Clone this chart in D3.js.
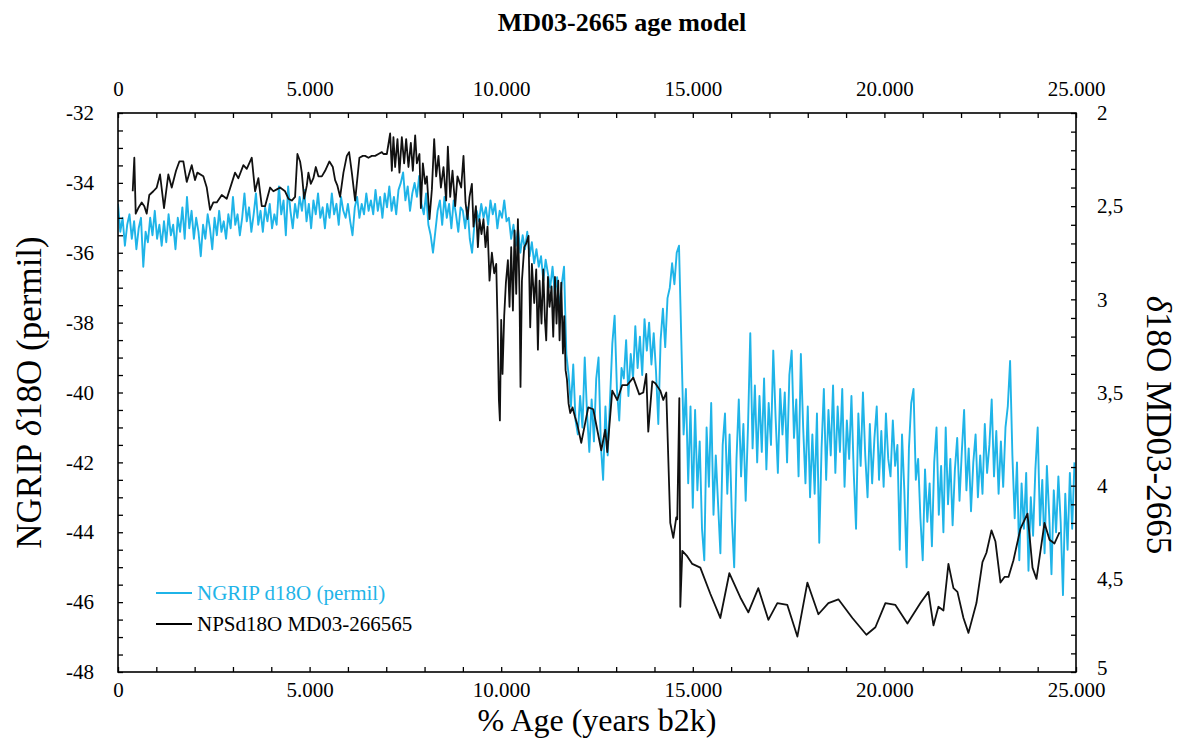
<!DOCTYPE html>
<html>
<head>
<meta charset="utf-8">
<script src="https://cdn.jsdelivr.net/npm/d3@7"></script>
<style>
  body { margin: 0; background: #fff; }
  svg { display: block; }
  text { font-family: "Liberation Serif", "Times New Roman", serif; fill: #000; }
</style>
</head>
<body>
<svg id="chart" width="1191" height="743"></svg>
<script>
// NGRIP d18O (permil), evenly sampled from the present back to 25 ka b2k
const ngripStartAge = 0;
const ngripStepYears = 60;
const ngripD18O = [
  -34.6,-35.4,-35.0,-35.8,-35.2,-34.9,-35.6,-35.1,-35.9,-35.3,
  -35.0,-36.4,-35.4,-35.7,-35.0,-35.5,-34.8,-35.6,-35.2,-35.8,
  -35.1,-35.7,-34.9,-35.5,-35.2,-35.9,-35.0,-35.4,-34.7,-35.6,
  -34.4,-35.3,-34.8,-35.6,-35.0,-35.4,-36.1,-35.2,-35.6,-34.9,
  -35.3,-35.9,-35.0,-35.5,-34.8,-35.4,-35.1,-35.6,-34.9,-35.3,
  -34.4,-35.2,-34.9,-35.5,-35.0,-34.3,-35.1,-34.7,-35.4,-34.9,
  -34.3,-35.2,-34.8,-35.4,-34.7,-35.1,-34.6,-35.3,-34.9,-35.2,
  -34.1,-34.9,-34.5,-35.5,-34.1,-34.8,-35.3,-34.6,-35.0,-34.4,
  -34.8,-34.2,-35.1,-34.6,-35.3,-34.5,-34.9,-34.3,-35.0,-34.7,
  -35.3,-34.6,-35.0,-34.3,-34.9,-34.6,-35.2,-34.4,-34.8,-35.0,
  -34.6,-35.1,-35.5,-34.7,-34.4,-35.0,-34.6,-34.9,-34.3,-34.8,
  -34.5,-34.9,-34.2,-34.8,-34.4,-35.0,-34.3,-34.7,-34.1,-34.8,
  -34.4,-34.9,-34.2,-34.0,-33.7,-34.5,-34.1,-34.8,-34.3,-34.0,
  -34.4,-33.8,-34.6,-34.9,-34.3,-35.2,-35.5,-36.0,-35.4,-34.8,
  -34.5,-35.2,-34.4,-35.0,-34.6,-35.3,-34.5,-34.9,-35.4,-34.7,
  -34.8,-35.3,-34.7,-35.6,-36.0,-35.2,-34.8,-35.1,-34.6,-35.0,
  -34.7,-35.2,-34.5,-34.9,-34.6,-35.3,-34.8,-35.0,-34.5,-35.1,
  -35.0,-35.6,-35.2,-35.8,-35.3,-36.0,-35.5,-35.9,-35.4,-36.1,
  -35.7,-36.3,-35.9,-36.4,-36.1,-36.8,-36.2,-36.6,-37.0,-36.4,
  -37.2,-36.7,-37.6,-36.9,-36.4,-38.9,-39.5,-40.4,-39.2,-40.8,
  -41.2,-40.1,-41.0,-39.0,-40.6,-41.7,-40.2,-41.4,-39.6,-39.0,
  -41.5,-42.5,-40.4,-41.8,-40.2,-38.6,-37.8,-39.9,-40.8,-39.3,
  -39.6,-38.5,-40.1,-38.9,-39.6,-38.1,-39.3,-38.4,-39.5,-37.9,
  -38.8,-38.0,-39.2,-38.3,-39.4,-40.9,-38.5,-37.6,-38.7,-37.3,
  -37.0,-36.3,-36.9,-36.0,-35.8,-38.5,-41.2,-39.9,-42.6,-40.4,
  -43.3,-40.5,-42.8,-41.4,-43.9,-44.8,-41.0,-42.7,-40.3,-43.5,
  -41.8,-43.2,-44.6,-41.5,-40.6,-42.9,-41.2,-43.6,-45.0,-41.9,
  -40.2,-42.4,-40.9,-43.1,-41.0,-38.3,-41.6,-39.8,-42.0,-40.1,
  -41.7,-39.6,-42.2,-40.3,-41.5,-38.8,-40.7,-42.3,-39.9,-41.2,
  -40.0,-42.0,-39.5,-38.8,-41.3,-40.2,-42.4,-38.9,-41.0,-42.6,
  -40.4,-43.0,-41.2,-42.9,-40.6,-44.3,-41.6,-39.9,-42.5,-40.5,
  -41.8,-39.8,-42.3,-40.4,-41.7,-39.9,-42.7,-40.8,-41.9,-40.1,
  -42.3,-43.9,-40.6,-42.1,-40.0,-41.8,-43.0,-40.9,-42.6,-41.3,
  -40.4,-42.5,-41.1,-42.7,-40.6,-41.9,-42.4,-40.8,-42.1,-41.5,
  -44.5,-41.2,-42.8,-45.0,-41.6,-40.3,-39.9,-42.5,-41.9,-43.6,
  -44.8,-42.2,-43.7,-42.6,-44.4,-42.0,-41.0,-43.5,-42.1,-44.0,
  -41.0,-43.2,-41.9,-43.8,-42.2,-41.3,-43.1,-41.7,-40.5,-42.8,
  -41.6,-43.4,-42.0,-41.2,-43.0,-41.8,-42.9,-40.9,-42.3,-41.5,
  -40.2,-42.4,-41.1,-42.9,-41.4,-42.7,-41.0,-40.4,-39.1,-41.8,
  -43.6,-42.0,-44.8,-42.6,-43.9,-42.3,-45.1,-43.0,-44.1,-42.2,
  -41.0,-43.8,-42.5,-44.6,-42.1,-43.5,-45.2,-42.8,-44.0,-42.4,
  -43.7,-45.8,-42.9,-44.5,-42.3,-43.9,-42.0
];

// MD03-2665 planktonic (NPS) d18O on its own age model
const mdAge = [
  384,426,462,530,619,687,749,817,922,1010,1097,1201,1313,1402,1514,1601,1705,1794,1924,2010,
  2071,2227,2316,2402,2488,2577,2708,2838,3055,3141,3272,3360,3491,3577,3663,3752,3838,3969,4055,4144,
  4230,4360,4447,4535,4621,4682,4752,4796,4857,4927,4969,5031,5099,5162,5230,5319,5405,5517,5606,5666,
  5726,5796,5883,5971,6031,6102,6188,6300,6389,6449,6535,6624,6710,6796,6885,6927,7016,7102,7146,7188,
  7232,7293,7345,7407,7467,7520,7580,7642,7694,7755,7799,7867,7904,7956,8016,8060,8128,8191,8251,8303,
  8363,8426,8494,8564,8608,8669,8729,8799,8859,8956,9016,9069,9121,9173,9235,9277,9340,9392,9434,9486,
  9538,9591,9643,9695,9757,9817,9870,9903,9940,9966,10000,10034,10078,10123,10175,10217,10261,10306,10348,10392,
  10436,10478,10504,10541,10601,10653,10713,10757,10801,10862,10914,10958,11000,11052,11097,11141,11175,11220,11261,11314,
  11358,11403,11444,11488,11523,11567,11611,11645,11680,11716,11758,11802,11862,11925,11984,12089,12272,12402,12611,12716,
  12768,12898,13029,13159,13290,13447,13603,13708,13786,13838,13943,14021,14152,14230,14308,14412,14491,14569,14595,14648,
  14674,14726,14857,14987,15196,15457,15718,15953,16240,16449,16710,16972,17206,17467,17729,17990,18277,18538,18799,19165,
  19530,19765,20026,20287,20601,20940,21149,21280,21410,21541,21671,21802,21906,22063,22194,22402,22559,22663,22794,22898,
  23029,23134,23238,23368,23551,23734,23865,23969,24178,24309,24439,24570
];
const mdD18O = [
  2.42,2.24,2.54,2.51,2.48,2.50,2.54,2.44,2.42,2.40,2.33,2.51,2.33,2.40,2.31,2.26,2.26,2.37,2.28,2.36,
  2.32,2.34,2.40,2.52,2.48,2.48,2.44,2.46,2.32,2.35,2.28,2.30,2.24,2.42,2.35,2.50,2.50,2.40,2.42,2.41,
  2.40,2.42,2.46,2.47,2.45,2.22,2.26,2.32,2.46,2.39,2.32,2.38,2.35,2.29,2.34,2.34,2.31,2.26,2.29,2.36,
  2.39,2.45,2.32,2.23,2.21,2.32,2.47,2.24,2.23,2.23,2.24,2.23,2.23,2.22,2.21,2.22,2.22,2.11,2.31,2.13,
  2.29,2.14,2.32,2.13,2.27,2.14,2.29,2.16,2.31,2.12,2.27,2.22,2.51,2.27,2.38,2.34,2.57,2.41,2.14,2.34,
  2.23,2.40,2.29,2.47,2.18,2.45,2.31,2.50,2.34,2.40,2.23,2.48,2.57,2.45,2.38,2.61,2.50,2.72,2.57,2.65,
  2.57,2.72,2.61,2.90,2.75,2.86,2.81,3.11,3.54,3.65,3.11,3.40,3.09,2.91,2.79,3.04,2.72,3.06,2.63,2.97,
  2.57,2.97,3.47,2.90,2.72,2.70,2.66,3.15,2.81,3.02,2.84,3.27,2.90,3.13,2.84,3.11,3.22,2.88,3.04,2.93,
  3.20,2.88,3.13,2.90,3.22,2.91,3.29,3.09,3.38,3.43,3.56,3.61,3.58,3.63,3.67,3.77,3.58,3.59,3.81,3.70,
  3.82,3.49,3.54,3.46,3.46,3.42,3.51,3.50,3.40,3.71,3.44,3.45,3.49,3.54,3.50,4.20,4.28,4.17,4.18,3.53,
  4.65,4.35,4.38,4.42,4.44,4.58,4.71,4.47,4.60,4.68,4.55,4.72,4.63,4.64,4.81,4.52,4.69,4.63,4.61,4.71,
  4.80,4.76,4.63,4.64,4.74,4.63,4.57,4.75,4.65,4.67,4.42,4.55,4.57,4.71,4.79,4.63,4.41,4.36,4.24,4.30,
  4.52,4.49,4.49,4.40,4.23,4.15,4.44,4.50,4.20,4.29,4.31,4.25
];

// Axis ticks and labels
const ageTicks = d3.range(0, 25001, 1000);
const ageLabelStep = 5000;
const leftTicks = d3.range(-48, -31.9, 0.5);
const leftLabelStep = 2;
const rightTicks = d3.range(20, 51).map(v => v / 10);

const ngripColor = "#1fb4e8";
const mdColor = "#111111";

const ngripSeries = ngripD18O.map((v, i) => ({ age: ngripStartAge + i * ngripStepYears, v }));
const mdSeries = mdAge.map((a, i) => ({ age: a, v: mdD18O[i] }));

const svg = d3.select("#chart");
const plot = { left: 118, right: 1076, top: 113, bottom: 672 };

const x = d3.scaleLinear().domain([0, 25000]).range([plot.left, plot.right]);
const yL = d3.scaleLinear().domain([-48, -32]).range([plot.bottom, plot.top]);
const yR = d3.scaleLinear().domain([5, 2]).range([plot.bottom, plot.top]);

const euro = d3.formatLocale({ decimal: ",", thousands: ".", grouping: [3], currency: ["", ""] });
const fmtAge = euro.format(",d");
const fmtRight = euro.format(".1~f");

svg.append("defs").append("clipPath").attr("id", "plotClip")
  .append("rect")
  .attr("x", plot.left).attr("y", plot.top)
  .attr("width", plot.right - plot.left).attr("height", plot.bottom - plot.top);

// Series
const lineL = d3.line().x(d => x(d.age)).y(d => yL(d.v));
const lineR = d3.line().x(d => x(d.age)).y(d => yR(d.v));

const lines = svg.append("g").attr("clip-path", "url(#plotClip)");
lines.append("path").datum(ngripSeries)
  .attr("d", lineL).attr("fill", "none")
  .attr("stroke", ngripColor).attr("stroke-width", 1.9).attr("stroke-linejoin", "round");
lines.append("path").datum(mdSeries)
  .attr("d", lineR).attr("fill", "none")
  .attr("stroke", mdColor).attr("stroke-width", 1.8).attr("stroke-linejoin", "round");

// Axes with inward ticks
function styleAxis(g) {
  g.select(".domain").remove();
  g.selectAll(".tick line").attr("stroke", "#000").attr("stroke-width", 1.3);
  g.selectAll(".tick text").style("font-size", "21px").style("font-family", "Liberation Serif, serif");
}

svg.append("g").attr("transform", `translate(0,${plot.bottom})`)
  .call(d3.axisBottom(x).tickValues(ageTicks).tickSize(-5).tickSizeOuter(0).tickPadding(10)
    .tickFormat(d => d % ageLabelStep === 0 ? fmtAge(d) : ""))
  .call(styleAxis);

svg.append("g").attr("transform", `translate(0,${plot.top})`)
  .call(d3.axisTop(x).tickValues(ageTicks).tickSize(-5).tickSizeOuter(0).tickPadding(17)
    .tickFormat(d => d % ageLabelStep === 0 ? fmtAge(d) : ""))
  .call(styleAxis);

svg.append("g").attr("transform", `translate(${plot.left},0)`)
  .call(d3.axisLeft(yL).tickValues(leftTicks).tickSize(-5).tickSizeOuter(0).tickPadding(24)
    .tickFormat(d => (Number.isInteger(d) && d % leftLabelStep === 0) ? String(d) : ""))
  .call(styleAxis);

const rightAxis = svg.append("g").attr("transform", `translate(${plot.right},0)`)
  .call(d3.axisRight(yR).tickValues(rightTicks).tickSize(-5).tickSizeOuter(0).tickPadding(21)
    .tickFormat(d => Math.round(d * 10) % 5 === 0 ? fmtRight(d) : ""))
  .call(styleAxis);
// the bottom label sits slightly above its tick, clear of the age labels
rightAxis.selectAll(".tick text").filter(d => d === 5).attr("dy", "0.1em");

// Frame
svg.append("rect")
  .attr("x", plot.left).attr("y", plot.top)
  .attr("width", plot.right - plot.left).attr("height", plot.bottom - plot.top)
  .attr("fill", "none").attr("stroke", "#000").attr("stroke-width", 1.6);

// Titles
svg.append("text").attr("x", 622).attr("y", 31).attr("text-anchor", "middle")
  .style("font-size", "26px").style("font-weight", "bold").text("MD03-2665 age model");

svg.append("text").attr("x", 597).attr("y", 731).attr("text-anchor", "middle")
  .style("font-size", "32px").text("% Age (years b2k)");

const yTitle = svg.append("text")
  .attr("transform", `translate(41,${(plot.top + plot.bottom) / 2}) rotate(-90)`)
  .attr("text-anchor", "middle").style("font-size", "35px");
yTitle.append("tspan").text("NGRIP ");
yTitle.append("tspan").style("font-style", "italic").text("δ");
yTitle.append("tspan").text("18O (permil)");

const y2Title = svg.append("text")
  .attr("transform", "translate(1147,425) rotate(90)")
  .attr("text-anchor", "middle").style("font-size", "35px");
y2Title.append("tspan").style("font-style", "italic").text("δ");
y2Title.append("tspan").text("18O MD03-2665");

// Legend
const legend = [
  { label: "NGRIP d18O (permil)", color: ngripColor, y: 593 },
  { label: "NPSd18O MD03-266565", color: "#000", y: 624 }
];
const lg = svg.append("g");
legend.forEach(d => {
  lg.append("line").attr("x1", 156).attr("x2", 192).attr("y1", d.y).attr("y2", d.y)
    .attr("stroke", d.color).attr("stroke-width", 1.8);
  lg.append("text").attr("x", 197).attr("y", d.y + 7)
    .style("font-size", "21px").style("fill", d.color).text(d.label);
});
</script>
</body>
</html>
